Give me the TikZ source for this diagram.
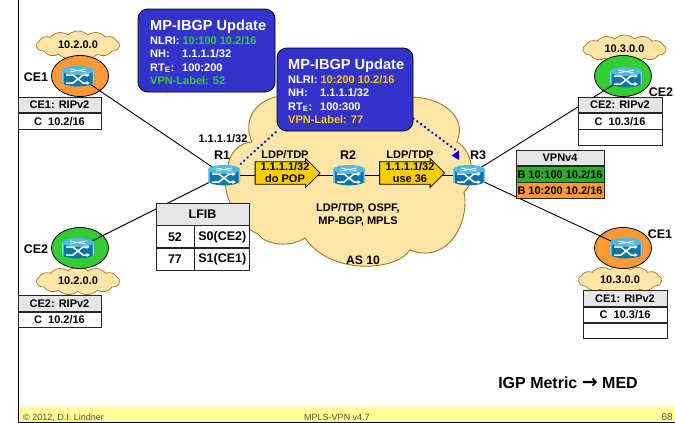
\documentclass[tikz,border=0pt]{standalone}
\usepackage{fontspec}
\setmainfont{Liberation Sans}
\newfontfamily\arrowfont{DejaVu Sans}
\usetikzlibrary{positioning,shapes.geometric,shapes.symbols,shapes.arrows,backgrounds,arrows.meta}

\definecolor{cloudfill}{HTML}{FFE6A8}
\definecolor{cloudline}{HTML}{9A7A20}
\definecolor{updateblue}{HTML}{3333CC}
\definecolor{labelgreen}{HTML}{33CC33}
\definecolor{labelgold}{HTML}{FFCC00}
\definecolor{ceorange}{HTML}{FF9933}
\definecolor{cegreen}{HTML}{33CC33}
\definecolor{rowgray}{HTML}{E6E6E6}
\definecolor{footyellow}{HTML}{FFFF99}
\definecolor{routerbody}{HTML}{0A74A6}
\definecolor{routertop}{HTML}{52B8E0}

\newcommand{\fsz}[1]{\fontsize{#1}{#1}\selectfont\bfseries}

\tikzset{
    router/.style={rectangle, minimum width=33pt, minimum height=22pt, inner sep=0pt,
        path picture={
            \begin{scope}[shift={(path picture bounding box.center)}]
                \fill[routerbody] (-16,-5) -- (-16,7) .. controls (-10,11.5) and (10,11.5) .. (16,7) -- (16,-5) -- cycle;
                \fill[routertop!70!white] (-16,-5) -- (-16,7) -- (-14.5,8) -- (-14.5,-5) -- cycle;
                \fill[routertop!70!white] (16,-5) -- (16,7) -- (14.5,8) -- (14.5,-5) -- cycle;
                \fill[routertop] (0,-5.5) ellipse [x radius=16, y radius=4.5];
                \draw[white,line width=.7pt] (-8,-7) -- (8,-4) (-8,-4) -- (8,-7);
                \draw[white,line width=1.5pt,-{Latex[length=3.5pt,width=4.5pt]}] (-12,-1) -- (-5,-1) -- (5,7) -- (12,7);
                \draw[white,line width=1.5pt,-{Latex[length=3.5pt,width=4.5pt]}] (-12,7) -- (-5,7) -- (5,-1) -- (12,-1);
            \end{scope}}},
    netcloud/.style={cloud, cloud puffs=13, cloud puff arc=85, aspect=3.2, draw=cloudline, fill=cloudfill,
        line width=.7pt, inner sep=0pt, minimum width=83pt, minimum height=28pt, font=\fsz{11}},
    cespot/.style={ellipse, draw=black, line width=.8pt, minimum width=57pt, minimum height=41pt},
    tablehead/.style={rectangle, draw=black!85, line width=.8pt, fill=rowgray, inner sep=0pt, minimum height=15.5pt, font=\fsz{11}},
    tablerow/.style={rectangle, draw=black!85, line width=.8pt, fill=white, inner sep=0pt, minimum height=15.5pt, font=\fsz{11}},
    lfibcell/.style={rectangle, draw=black!85, line width=.8pt, fill=white, inner sep=0pt, minimum height=22pt, font=\fsz{12.5}},
    updatebox/.style={rectangle, rounded corners=10pt, draw=black, line width=.9pt, fill=updateblue, minimum width=137pt, minimum height=83pt},
    updatetext/.style={inner sep=0pt, anchor=base west, text=white, font=\fsz{11}},
    updatetitle/.style={inner sep=0pt, anchor=base west, text=white, font=\fsz{14.6}},
    lblarrow/.style={single arrow, single arrow head extend=3pt, single arrow head indent=0pt, draw=black, line width=.8pt,
        fill=labelgold, inner sep=0pt, minimum width=29pt, minimum height=65pt, align=center, font=\fsz{11}},
    namelabel/.style={inner sep=0pt, font=\fsz{12.5}},
    smalllabel/.style={inner sep=0pt, align=center, font=\fsz{11}},
    footlabel/.style={inner sep=0pt, text=black!70, font=\fontsize{9}{9}\selectfont},
    updateline/.style={draw=blue!80!black, line width=2.6pt, line cap=round, dash pattern=on .1pt off 4.6pt}
}

\begin{document}
\begin{tikzpicture}[x=1pt, y=-1pt, node distance=0pt]
    \useasboundingbox (0,0) rectangle (675,423);

    % footer
    \fill[footyellow] (19,407) rectangle (675,422);
    \draw[line width=1.4pt] (18.5,0) -- (18.5,422.5) -- (675,422.5);

    \begin{scope}[on background layer]
        % backbone cloud
        \draw[fill=cloudfill, draw=cloudline, line width=.9pt]
            (252,142) .. controls (244,125) and (250,104) .. (275,97)
            -- (413,97)
            .. controls (440,98) and (468,115) .. (457,142)
            .. controls (472,150) and (478,180) .. (464,192)
            .. controls (470,222) and (448,265) .. (410,250)
            .. controls (395,272) and (330,275) .. (305,238)
            .. controls (290,248) and (265,245) .. (258,234)
            .. controls (235,225) and (218,185) .. (229,172)
            .. controls (225,155) and (240,142) .. (252,142) -- cycle;

        \node[netcloud] (net1) at (78,45) {10.2.0.0};
        \node[netcloud] (net2) at (78,281) {10.2.0.0};
        \node[netcloud] (net3) at (624.5,49) {10.3.0.0};
        \node[netcloud] (net4) at (620,280) {10.3.0.0};

        \node[cespot, fill=ceorange] (spot1) at (80,76) {};
        \node[cespot, fill=cegreen] (spot2) at (80,248) {};
        \node[cespot, fill=cegreen] (spot3) at (623,76) {};
        \node[cespot, fill=ceorange] (spot4) at (623,248) {};
    \end{scope}

    % routers
    \node[router] (ce1l) at (78,76) {};
    \node[router] (ce2l) at (78,248) {};
    \node[router] (ce2r) at (626,77) {};
    \node[router] (ce1r) at (626,248) {};
    \node[router] (r1) at (224,175) {};
    \node[router] (r2) at (349,175) {};
    \node[router] (r3) at (469,175) {};

    % label arrows
    \node[lblarrow] (pop) at (282,173) {\phantom{1.1.1.1/32}\\[.5pt]\phantom{do POP}};
    \node[lblarrow] (use) at (406.5,173) {\phantom{1.1.1.1/32}\\[.5pt]\phantom{use 36}};
    \node[smalllabel] (poptxt) at (285,172.5) {1.1.1.1/32\\[.5pt]do POP};
    \node[smalllabel] (usetxt) at (410,172.5) {1.1.1.1/32\\[.5pt]use 36};

    % tables
    \node[tablehead, minimum width=83pt] (t1a) at (59.5,105) {CE1: RIPv2};
    \node[tablerow, minimum width=83pt, below=of t1a] (t1b) {C\ \ 10.2/16};

    \node[tablehead, minimum width=83pt] (t2a) at (59.5,303.5) {CE2: RIPv2};
    \node[tablerow, minimum width=83pt, below=of t2a] (t2b) {C\ \ 10.2/16};

    \node[tablehead, minimum width=84pt] (t3a) at (620,105) {CE2: RIPv2};
    \node[tablerow, minimum width=84pt, below=of t3a] (t3b) {C\ \ 10.3/16};
    \node[tablerow, minimum width=84pt, below=of t3b] (t3c) {};

    \node[tablehead, minimum width=84pt] (t4a) at (625,298.5) {CE1: RIPv2};
    \node[tablerow, minimum width=84pt, below=of t4a] (t4b) {C\ \ 10.3/16};
    \node[tablerow, minimum width=84pt, below=of t4b] (t4c) {};

    \node[tablehead, minimum width=88pt] (vpna) at (560,158) {VPNv4};
    \node[tablerow, minimum width=88pt, fill=cegreen!85!black, below=of vpna] (vpnb) {B 10:100 10.2/16};
    \node[tablerow, minimum width=88pt, fill=ceorange, below=of vpnb] (vpnc) {B 10:200 10.2/16};

    \node[lfibcell, minimum width=93pt, fill=rowgray] (lfib) at (202.5,214) {LFIB};
    \node[lfibcell, minimum width=38pt, below=of lfib.south west, anchor=north west] (l52) {52};
    \node[lfibcell, minimum width=55pt, right=of l52] (l52s) {S0(CE2)};
    \node[lfibcell, minimum width=38pt, below=of l52] (l77) {77};
    \node[lfibcell, minimum width=55pt, right=of l77] (l77s) {S1(CE1)};

    % update boxes
    \node[updatebox] (upd1) at (206.5,50.5) {};
    \node[updatebox, minimum width=136pt] (upd2) at (345,89.5) {};

    \node[updatetitle] (upd1t) at (150,30) {MP-IBGP Update};
    \node[updatetext] (upd1n) at (150,44) {NLRI: \textcolor{labelgreen}{10:100 10.2/16}};
    \node[updatetext] (upd1h) at (150,57) {NH:\hspace{12.5pt}1.1.1.1/32};
    \node[updatetext] (upd1r) at (150,71) {RT\textsubscript{E}:\hspace{8pt}100:200};
    \node[updatetext, text=labelgreen] (upd1v) at (150,84) {VPN-Label: 52};

    \node[updatetitle] (upd2t) at (288,69) {MP-IBGP Update};
    \node[updatetext] (upd2n) at (288,83) {NLRI: \textcolor{labelgold}{10:200 10.2/16}};
    \node[updatetext] (upd2h) at (288,96) {NH:\hspace{12.5pt}1.1.1.1/32};
    \node[updatetext] (upd2r) at (288,110) {RT\textsubscript{E}:\hspace{8pt}100:300};
    \node[updatetext, text=labelgold] (upd2v) at (288,123) {VPN-Label: 77};

    % labels
    \node[namelabel] (lce1l) at (36,77) {CE1};
    \node[namelabel] (lce2l) at (36,249) {CE2};
    \node[namelabel] (lce2r) at (661,92) {CE2};
    \node[namelabel] (lce1r) at (660,234) {CE1};
    \node[namelabel] (lr1) at (222,155) {R1};
    \node[namelabel] (lr2) at (348,155) {R2};
    \node[namelabel] (lr3) at (478,155) {R3};
    \node[smalllabel] (nh) at (223,139) {1.1.1.1/32};
    \node[smalllabel] (ldp1) at (285,155) {LDP/TDP};
    \node[smalllabel] (ldp2) at (410,155) {LDP/TDP};
    \node[smalllabel] (proto) at (358,215) {LDP/TDP, OSPF,\\[2.5pt]MP-BGP, MPLS};
    \node[namelabel, font=\fsz{12.2}] (as) at (363,260) {AS 10};
    \node[inner sep=0pt, font=\fsz{16}] (igp) at (568,383) {IGP Metric {\arrowfont\bfseries\fontsize{19}{19}\selectfont →} MED};

    \node[footlabel, anchor=base west] (foot1) at (23,420) {© 2012, D.I. Lindner};
    \node[footlabel, anchor=base] (foot2) at (337,420) {MPLS-VPN v4.7};
    \node[footlabel, anchor=base east, font=\fontsize{10}{10}\selectfont] (foot3) at (673,420) {68};

    % connectors
    \coordinate (updtip) at (457,151);
    \begin{scope}[on background layer]
        \draw[line width=.9pt] (r1.center) -- (r3.center);
        \draw[line width=.9pt] (ce1l.center) -- (r1.center);
        \draw[line width=.9pt] (ce2l.center) -- (r1.center);
        \draw[line width=.9pt] (r3.center) -- (ce2r.center);
        \draw[line width=.9pt] (r3.center) -- (ce1r.center);
        \draw[updateline] (r1.north east) -- (upd2.south west);
        \draw[updateline] (upd2.-23) -- (updtip);
    \end{scope}
    \fill[blue!80!black] (updtip) ++(-5.5,4.5) -- ++(7.5,-5) -- ++(0,9.5) -- cycle;
\end{tikzpicture}
\end{document}
